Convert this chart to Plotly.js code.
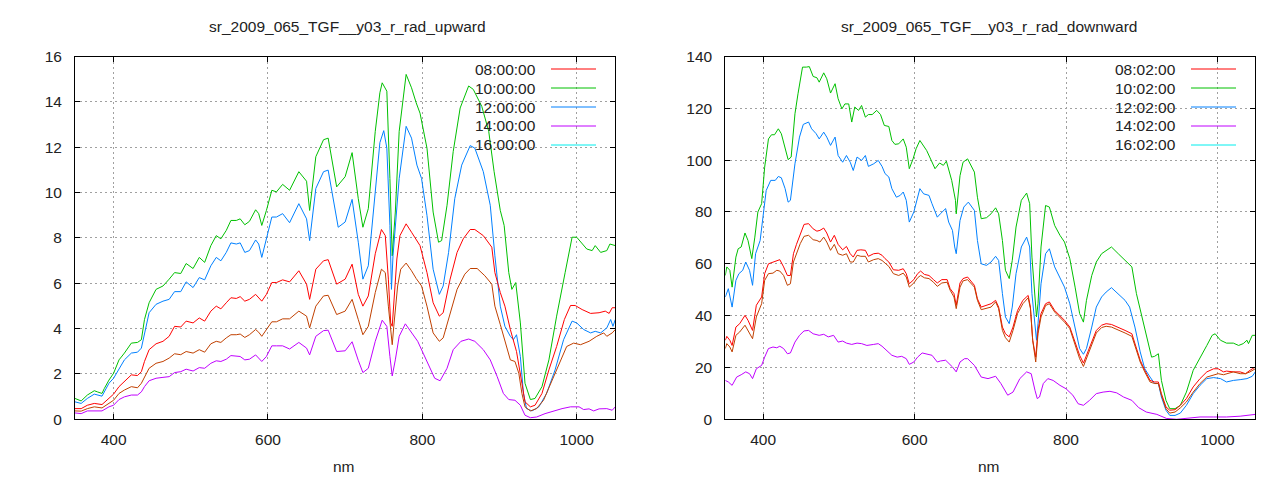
<!DOCTYPE html>
<html>
<head>
<meta charset="utf-8">
<script src="https://cdn.plot.ly/plotly-3.0.1.min.js"></script>
<style>html,body{margin:0;padding:0;background:#fff;}#chart{width:1280px;height:480px;}</style>
</head>
<body>
<div id="chart"></div>
<script>
// ---------- Upward radiance (left panel) : [nm, value] ----------
const up_0800 = [[350,0.47],[358,0.47],[366,0.62],[375,0.70],[385,0.65],[394,0.92],[400,1.11],[407,1.44],[414,1.66],[423,1.96],[431,1.93],[436,2.10],[440,2.55],[446,3.07],[455,3.33],[464,3.44],[472,3.66],[479,4.10],[487,4.07],[494,4.33],[503,4.25],[511,4.47],[518,4.33],[526,4.77],[533,4.99],[539,4.87],[546,5.14],[552,5.36],[559,5.33],[564,5.41],[570,5.21],[576,5.29],[584,5.51],[588,5.36],[592,5.21],[598,5.51],[605,6.03],[611,6.03],[619,6.15],[628,6.06],[640,6.55],[650,5.96],[654,5.29],[662,6.62],[672,6.99],[678,7.04],[689,5.96],[700,6.18],[709,6.84],[717,5.51],[723,4.99],[730,5.44],[739,7.30],[747,8.37],[752,8.10],[756,6.18],[759,4.25],[761,4.10],[763,5.14],[767,7.07],[771,8.10],[779,8.62],[786,8.25],[791,7.96],[797,7.66],[806,6.47],[814,5.14],[822,4.55],[827,4.70],[836,6.18],[845,7.36],[853,7.96],[862,8.37],[868,8.37],[879,8.10],[890,7.59],[894,6.47],[901,5.59],[907,4.99],[914,3.96],[922,2.99],[929,1.59],[933,0.77],[940,0.55],[946,0.62],[955,1.14],[964,2.18],[974,3.21],[984,4.40],[992,5.02],[998,5.02],[1007,4.84],[1018,4.67],[1029,4.70],[1037,4.77],[1042,4.67],[1046,4.92],[1050,4.92]];
const up_1000 = [[350,0.92],[358,0.81],[366,1.07],[375,1.26],[379,1.21],[385,1.14],[388,1.36],[394,1.73],[400,2.03],[407,2.62],[414,2.92],[423,3.36],[431,3.39],[436,3.51],[440,4.40],[446,5.14],[455,5.73],[464,5.88],[472,6.18],[479,6.47],[487,6.43],[494,6.87],[503,6.65],[511,7.14],[518,6.92],[526,7.66],[533,8.10],[539,7.96],[546,8.33],[552,8.77],[559,8.77],[564,8.84],[570,8.58],[576,8.73],[584,9.24],[588,9.07],[592,8.55],[598,9.21],[605,10.10],[611,10.03],[619,10.36],[628,10.10],[640,10.92],[650,10.50],[654,9.21],[662,11.58],[672,12.33],[678,12.40],[689,10.25],[700,10.70],[709,11.76],[717,9.73],[723,8.47],[730,9.29],[739,12.70],[745,14.40],[748,14.84],[754,14.47],[758,10.62],[761,7.21],[765,9.14],[770,12.70],[779,15.21],[786,14.62],[792,13.96],[797,13.50],[806,11.96],[814,9.14],[821,7.81],[825,7.88],[832,9.44],[840,11.81],[849,13.73],[860,14.70],[866,14.55],[877,13.80],[886,12.70],[893,10.92],[901,9.21],[906,8.55],[912,6.47],[916,5.73],[921,6.03],[927,4.25],[933,1.59],[940,0.87],[946,0.92],[955,1.44],[964,2.62],[974,4.55],[985,6.47],[994,8.03],[1000,8.03],[1007,7.73],[1013,7.51],[1020,7.44],[1024,7.66],[1031,7.36],[1039,7.44],[1043,7.73],[1050,7.66]];
const up_1200 = [[350,0.77],[358,0.70],[366,0.92],[375,1.11],[385,1.02],[394,1.59],[400,1.81],[407,2.25],[414,2.62],[423,2.92],[431,2.96],[436,3.14],[440,3.81],[446,4.70],[455,5.07],[464,5.21],[472,5.29],[479,5.63],[487,5.63],[494,6.06],[503,5.81],[511,6.25],[518,6.15],[526,6.77],[533,7.14],[539,6.99],[546,7.36],[552,7.78],[559,7.73],[564,7.78],[570,7.36],[576,7.44],[584,7.91],[588,7.73],[592,7.14],[598,7.96],[605,8.92],[611,8.92],[619,9.07],[628,8.67],[640,9.51],[650,8.84],[654,7.88],[662,10.18],[672,10.92],[678,10.99],[691,8.47],[700,8.70],[709,9.70],[717,7.81],[723,6.18],[730,6.77],[739,9.88],[745,12.20],[750,12.73],[754,11.96],[758,8.55],[760,5.73],[762,7.21],[765,8.55],[770,10.62],[779,12.92],[786,12.40],[793,11.21],[799,10.62],[806,8.99],[814,6.62],[822,5.51],[827,5.88],[834,7.36],[842,9.73],[851,11.21],[862,12.07],[868,11.96],[879,10.92],[888,9.44],[894,7.21],[901,4.99],[907,4.10],[914,3.66],[918,3.51],[922,3.73],[927,2.77],[931,1.14],[935,0.47],[942,0.37],[951,0.55],[961,1.14],[972,2.18],[983,3.51],[994,4.33],[1000,4.25],[1009,3.96],[1018,3.81],[1024,3.88],[1031,3.81],[1039,4.03],[1044,4.40],[1047,4.10],[1050,4.40]];
const up_1400 = [[350,0.28],[358,0.25],[366,0.37],[375,0.37],[385,0.37],[394,0.55],[400,0.62],[407,0.87],[414,0.99],[423,1.07],[431,1.07],[436,1.21],[440,1.44],[446,1.70],[455,1.81],[464,1.85],[472,1.88],[479,2.06],[487,2.10],[494,2.21],[503,2.13],[511,2.28],[518,2.25],[526,2.47],[533,2.58],[539,2.55],[546,2.65],[552,2.81],[559,2.80],[564,2.77],[570,2.62],[576,2.65],[584,2.84],[588,2.70],[592,2.55],[598,2.77],[605,3.24],[611,3.24],[619,3.24],[628,3.10],[640,3.39],[650,3.14],[654,2.84],[662,3.66],[672,3.91],[678,3.93],[689,2.99],[700,3.02],[709,3.42],[717,2.60],[723,2.06],[730,2.25],[739,3.44],[748,4.37],[754,4.10],[758,2.77],[761,1.91],[765,2.62],[770,3.66],[778,4.21],[786,3.81],[794,3.44],[801,2.92],[809,2.33],[816,1.81],[823,1.70],[832,2.25],[840,3.07],[850,3.44],[860,3.54],[868,3.44],[879,3.07],[888,2.62],[897,1.88],[905,1.14],[912,0.87],[920,0.84],[927,0.62],[933,0.18],[940,0.07],[948,0.10],[959,0.25],[970,0.37],[981,0.47],[992,0.55],[1003,0.55],[1009,0.43],[1016,0.46],[1022,0.37],[1029,0.46],[1039,0.47],[1046,0.40],[1050,0.55]];
const up_extra = [[350,0.37],[358,0.36],[366,0.47],[375,0.55],[385,0.50],[394,0.70],[400,0.84],[407,1.14],[414,1.29],[423,1.44],[431,1.39],[436,1.59],[440,1.88],[446,2.25],[455,2.47],[464,2.55],[472,2.70],[479,2.89],[487,2.85],[494,2.99],[503,2.92],[511,3.07],[518,2.96],[526,3.33],[533,3.44],[539,3.39],[546,3.59],[552,3.73],[559,3.73],[564,3.76],[570,3.61],[576,3.73],[584,3.96],[588,3.84],[592,3.66],[598,3.96],[605,4.30],[611,4.30],[619,4.43],[628,4.43],[640,4.77],[650,4.55],[654,4.03],[662,4.99],[672,5.44],[678,5.47],[689,4.62],[700,4.77],[709,5.29],[717,4.40],[723,3.73],[730,4.10],[739,5.59],[747,6.62],[752,6.47],[756,4.99],[759,3.96],[761,3.29],[763,4.10],[768,5.88],[772,6.62],[779,6.89],[786,6.55],[792,6.21],[799,5.88],[806,4.99],[814,3.81],[822,3.44],[827,3.59],[836,4.70],[845,5.73],[855,6.40],[862,6.65],[871,6.65],[881,6.33],[890,5.96],[894,4.99],[901,4.18],[907,3.44],[914,2.62],[920,2.55],[925,2.03],[929,1.14],[933,0.55],[940,0.37],[948,0.47],[957,0.84],[968,1.73],[979,2.62],[987,3.21],[996,3.36],[1005,3.29],[1016,3.44],[1026,3.66],[1035,3.81],[1039,3.66],[1046,3.81],[1050,3.96]];

// ---------- Downward radiance (right panel) : [nm, value] ----------
const down_0802 = [[350,30.5],[352,32.0],[356,30.5],[359,28.5],[364,35.6],[369,36.9],[376,40.1],[380,38.2],[386,34.3],[391,44.0],[398,47.2],[402,56.2],[407,60.0],[413,60.7],[418,61.1],[422,61.6],[427,58.8],[432,55.5],[436,55.5],[440,63.9],[444,67.5],[449,71.6],[454,75.2],[460,75.5],[466,73.5],[471,72.6],[475,72.9],[480,73.8],[484,71.9],[489,68.4],[494,71.0],[499,67.5],[505,65.4],[510,66.7],[515,63.9],[519,62.6],[524,65.2],[529,65.4],[535,65.2],[539,62.9],[546,63.9],[552,64.1],[557,63.3],[561,62.0],[566,60.7],[572,57.7],[579,57.5],[585,58.1],[589,56.2],[593,52.3],[599,53.9],[604,56.2],[608,57.2],[613,55.9],[619,55.5],[625,53.9],[630,52.6],[636,53.9],[643,53.9],[647,50.4],[652,48.5],[655,44.0],[660,52.6],[664,54.3],[670,54.9],[679,51.7],[683,46.5],[688,43.3],[695,44.0],[701,44.6],[707,45.9],[711,43.3],[716,35.6],[720,33.0],[725,31.8],[730,35.6],[736,42.0],[743,45.9],[750,47.8],[753,43.3],[756,30.5],[760,24.0],[763,34.3],[767,40.8],[773,44.6],[778,45.3],[785,42.0],[792,40.1],[798,38.2],[805,35.6],[812,29.8],[818,24.7],[823,21.7],[827,24.7],[834,30.5],[840,34.3],[847,36.3],[853,36.9],[860,36.6],[869,35.6],[878,34.3],[887,33.0],[892,27.9],[898,22.8],[904,18.9],[911,15.0],[917,14.4],[922,14.4],[926,9.9],[932,4.8],[937,3.5],[944,3.7],[951,5.4],[959,8.0],[968,12.5],[977,15.7],[986,18.3],[995,19.5],[1001,19.5],[1008,18.3],[1012,18.6],[1021,18.3],[1030,18.3],[1037,17.6],[1043,18.9],[1050,20.2]];
const down_1002 = [[350,55.5],[352,58.8],[356,57.5],[359,51.0],[364,62.6],[367,65.8],[371,66.5],[376,71.9],[380,69.0],[385,62.0],[389,70.3],[393,80.0],[398,83.2],[402,97.3],[407,108.2],[411,109.8],[415,109.8],[420,112.1],[424,110.2],[429,105.0],[433,100.2],[437,101.2],[442,117.9],[446,125.6],[452,135.9],[457,135.9],[461,136.1],[466,132.3],[471,131.8],[474,130.1],[480,133.7],[484,131.4],[489,125.9],[495,129.5],[499,123.7],[504,119.8],[508,121.7],[513,121.7],[517,114.7],[521,120.5],[526,119.2],[530,121.1],[535,116.6],[539,117.6],[544,117.6],[550,119.2],[555,117.6],[560,113.4],[566,113.0],[570,107.6],[574,106.1],[579,106.3],[585,108.2],[589,105.0],[593,96.7],[598,100.5],[602,104.4],[607,107.6],[611,105.7],[616,103.7],[622,99.9],[627,96.7],[633,98.9],[638,98.0],[642,99.6],[645,96.0],[649,92.2],[654,84.5],[655,79.3],[660,94.0],[664,99.2],[670,100.5],[679,95.4],[683,85.7],[688,77.4],[695,77.8],[701,79.3],[707,81.6],[711,79.3],[716,69.0],[720,57.5],[725,54.3],[729,61.3],[734,74.2],[741,84.5],[748,87.3],[752,83.2],[755,62.6],[759,45.9],[761,39.5],[763,44.6],[767,66.5],[773,82.5],[778,81.9],[785,74.8],[792,71.0],[798,68.4],[805,62.0],[812,51.0],[818,40.8],[823,37.5],[827,45.9],[834,55.5],[840,60.7],[847,63.9],[853,65.2],[860,66.5],[869,63.9],[878,61.3],[887,58.8],[893,48.5],[900,39.5],[906,33.0],[913,24.0],[917,24.3],[922,25.3],[926,15.0],[932,7.3],[937,4.1],[944,4.1],[951,5.4],[959,10.5],[968,18.9],[977,24.0],[986,28.5],[993,32.4],[997,33.0],[1004,30.5],[1012,29.4],[1021,29.4],[1028,28.5],[1034,29.2],[1039,30.5],[1041,29.2],[1046,32.4],[1050,32.4]];
const down_1202 = [[350,47.2],[354,50.4],[359,43.3],[364,53.6],[368,56.2],[373,57.5],[377,60.7],[382,57.5],[386,51.7],[390,63.9],[396,69.0],[400,80.0],[404,88.3],[410,92.2],[416,92.2],[420,93.7],[424,93.2],[429,89.0],[433,83.8],[436,84.5],[442,98.6],[448,108.9],[453,113.8],[460,114.7],[464,112.1],[470,110.2],[474,108.2],[480,110.8],[484,108.9],[489,105.7],[495,108.9],[499,101.8],[505,99.2],[510,101.8],[515,99.2],[519,96.0],[524,101.2],[530,99.9],[535,101.8],[539,97.6],[546,98.6],[552,99.9],[557,97.6],[561,94.8],[566,93.5],[570,89.0],[576,85.7],[581,86.4],[585,87.7],[589,84.5],[593,76.1],[599,80.0],[603,84.5],[607,89.0],[612,87.0],[619,86.4],[623,83.2],[630,78.0],[634,79.3],[641,81.3],[645,76.1],[650,72.9],[653,66.5],[655,63.9],[660,76.7],[665,81.9],[671,83.8],[679,80.6],[683,69.0],[688,60.0],[695,59.4],[701,60.7],[707,62.9],[711,61.3],[716,48.5],[720,39.5],[725,36.9],[729,43.3],[734,56.2],[741,66.5],[748,70.3],[752,66.5],[755,48.5],[759,34.3],[761,30.5],[763,36.9],[767,52.3],[773,63.9],[778,65.8],[785,58.8],[792,54.9],[798,51.0],[805,44.6],[812,35.6],[818,27.3],[823,25.1],[827,27.3],[834,35.6],[840,43.3],[847,47.2],[853,49.1],[860,50.8],[869,48.5],[878,45.9],[884,43.3],[891,35.6],[898,26.0],[904,19.5],[911,16.3],[917,13.8],[922,13.8],[926,8.6],[932,3.5],[937,1.5],[944,1.5],[951,2.4],[959,5.4],[968,9.9],[977,13.1],[986,15.7],[995,16.1],[1004,15.7],[1012,14.4],[1021,15.0],[1030,15.3],[1039,15.7],[1046,16.6],[1050,18.3]];
const down_1402 = [[350,15.0],[354,14.4],[359,13.1],[365,16.3],[371,17.2],[377,18.3],[382,17.6],[386,15.7],[391,19.5],[398,20.8],[402,24.0],[407,27.3],[413,27.9],[418,27.6],[422,28.2],[427,27.3],[432,25.3],[436,25.6],[442,29.8],[448,32.4],[454,34.1],[460,34.3],[466,33.0],[474,32.4],[480,32.8],[486,31.8],[493,32.4],[499,29.8],[505,30.2],[510,29.4],[517,28.9],[524,29.4],[530,29.2],[537,28.5],[546,28.9],[552,29.2],[557,28.2],[563,26.6],[570,24.7],[577,24.0],[583,24.3],[589,23.4],[593,21.2],[599,22.1],[604,24.0],[610,25.6],[616,25.1],[623,24.7],[630,22.1],[634,22.5],[641,22.8],[645,21.7],[650,20.2],[655,18.3],[660,22.1],[666,23.4],[670,23.4],[679,20.8],[688,16.3],[697,15.7],[707,16.6],[714,13.8],[723,9.3],[730,10.5],[739,15.7],[748,18.3],[754,17.6],[759,11.2],[762,8.0],[765,8.6],[770,13.8],[776,15.7],[783,15.0],[792,13.1],[800,11.8],[809,9.3],[816,6.0],[823,5.4],[831,7.3],[840,9.9],[849,10.5],[858,10.8],[867,10.2],[876,8.6],[887,7.3],[896,4.5],[906,2.8],[920,1.9],[933,0.3],[946,0.0],[959,0.3],[977,0.9],[995,0.9],[1012,0.9],[1030,1.2],[1043,1.5],[1050,1.9]];
const down_extra = [[350,27.3],[352,29.2],[356,27.9],[359,26.0],[364,32.4],[369,33.7],[376,36.3],[380,34.3],[386,31.1],[391,39.5],[398,44.6],[402,53.6],[407,56.2],[413,56.4],[418,57.5],[422,57.2],[427,55.5],[432,51.7],[436,52.3],[440,60.7],[444,63.9],[449,67.8],[454,70.6],[460,71.0],[466,69.3],[471,69.0],[475,68.4],[480,70.3],[484,68.4],[489,65.2],[494,67.5],[499,63.9],[505,63.3],[510,63.9],[515,60.7],[519,60.7],[524,63.3],[529,62.9],[535,62.9],[539,60.7],[546,61.6],[552,62.0],[557,61.3],[561,60.3],[566,59.0],[572,56.2],[579,55.5],[585,56.4],[589,54.9],[593,51.0],[599,52.6],[604,54.6],[608,55.5],[613,54.6],[619,54.3],[625,52.9],[630,51.3],[636,52.6],[643,52.9],[647,49.8],[652,47.2],[655,42.7],[660,51.0],[664,53.4],[670,53.9],[679,51.0],[683,45.9],[688,42.3],[695,42.7],[701,43.3],[707,45.3],[711,42.7],[716,34.3],[720,31.5],[725,29.8],[730,34.3],[736,40.8],[743,44.6],[750,46.9],[753,42.7],[756,30.5],[760,22.1],[763,33.0],[767,39.5],[773,43.9],[778,44.6],[785,41.4],[792,39.5],[798,37.5],[805,35.0],[812,28.9],[818,23.4],[823,20.4],[827,23.4],[834,29.4],[840,33.3],[847,35.4],[853,35.9],[860,35.6],[869,34.6],[878,33.3],[887,32.0],[892,27.3],[898,22.1],[904,18.3],[911,14.4],[917,13.8],[922,13.8],[926,9.3],[932,4.1],[937,2.4],[944,2.8],[951,4.4],[959,6.7],[968,10.5],[977,13.8],[986,16.3],[995,17.0],[1001,17.6],[1008,17.2],[1012,17.6],[1021,18.3],[1030,17.6],[1037,17.6],[1043,18.3],[1050,19.5]];

// ---------- labels ----------
const titleUp = "sr_2009_065_TGF__y03_r_rad_upward";
const titleDown = "sr_2009_065_TGF__y03_r_rad_downward";
const xLabel = "nm";
const legendUp = ["08:00:00","10:00:00","12:00:00","14:00:00","16:00:00"];
const legendDown = ["08:02:00","10:02:00","12:02:00","14:02:00","16:02:00"];
const legendColors = ["#ff0000","#00c000","#0080ff","#c000ff","#00eeee"];
const xTicks = [400, 600, 800, 1000];

const C = {red:"#ff0000", green:"#00c000", blue:"#0080ff", magenta:"#c000ff", brown:"#c04000"};
const FONT = "Liberation Sans, Arial, sans-serif";

function tr(data, color, xa, ya){
  return {x:data.map(d=>d[0]), y:data.map(d=>d[1]), type:"scatter", mode:"lines",
          line:{color:color, width:1}, xaxis:xa, yaxis:ya, hoverinfo:"skip", showlegend:false};
}

const traces = [
  tr(up_1000, C.green, "x", "y"),
  tr(up_1200, C.blue, "x", "y"),
  tr(up_0800, C.red, "x", "y"),
  tr(up_extra, C.brown, "x", "y"),
  tr(up_1400, C.magenta, "x", "y"),
  tr(down_1002, C.green, "x2", "y2"),
  tr(down_1202, C.blue, "x2", "y2"),
  tr(down_0802, C.red, "x2", "y2"),
  tr(down_extra, C.brown, "x2", "y2"),
  tr(down_1402, C.magenta, "x2", "y2")
];

const W = 1280, H = 480;
const px = v => v / W, py = v => 1 - v / H;

function axisX(domain, anchor){
  return {domain:domain, anchor:anchor, range:[350,1050], tickvals:xTicks, ticks:"inside", ticklen:5,
    tickcolor:"#000", showline:true, linecolor:"#000", linewidth:1, mirror:"allticks",
    showgrid:true, gridcolor:"#a0a0a0", gridwidth:1, griddash:"2px,3px", zeroline:false,
    tickfont:{family:FONT, size:15.5, color:"#222"}, ticklabelstandoff:6};
}
function axisY(domain, anchor, max, dt){
  return {domain:domain, anchor:anchor, range:[0,max], dtick:dt, tick0:0, ticks:"inside", ticklen:5,
    tickcolor:"#000", showline:true, linecolor:"#000", linewidth:1, mirror:"allticks",
    showgrid:true, gridcolor:"#a0a0a0", gridwidth:1, griddash:"2px,3px", zeroline:false,
    tickfont:{family:FONT, size:15.5, color:"#222"}, ticklabelstandoff:9};
}

const yDom = [(H-419.3)/H, (H-56.5)/H];
const layout = {
  width:W, height:H, margin:{l:0,r:0,t:0,b:0}, paper_bgcolor:"#fff", plot_bgcolor:"#fff",
  showlegend:false,
  xaxis: axisX([75/W, 615.3/W], "y"),
  yaxis: axisY(yDom, "x", 16, 2),
  xaxis2: axisX([725.3/W, 1255.3/W], "y2"),
  yaxis2: axisY(yDom, "x2", 140, 20),
  shapes: [], annotations: []
};

// legend masks (hide grid behind key, lines still on top)
layout.shapes.push({type:"rect", xref:"paper", yref:"paper", x0:px(473), x1:px(607), y0:py(155), y1:py(57),
  fillcolor:"#fff", line:{width:0}, layer:"between"});
layout.shapes.push({type:"rect", xref:"paper", yref:"paper", x0:px(1103), x1:px(1247), y0:py(155), y1:py(57),
  fillcolor:"#fff", line:{width:0}, layer:"between"});

const rows = [69, 88, 107, 126, 145];
function addKey(labels, textRight, s0, s1){
  labels.forEach((lab, i) => {
    layout.annotations.push({text:lab, xref:"paper", yref:"paper", x:px(textRight), y:py(rows[i]),
      xanchor:"right", yanchor:"middle", showarrow:false, font:{family:FONT, size:15.5, color:"#222"}});
    layout.shapes.push({type:"line", xref:"paper", yref:"paper", x0:px(s0), x1:px(s1), y0:py(rows[i]), y1:py(rows[i]),
      line:{color:legendColors[i], width:1}, layer:"above"});
  });
}
addKey(legendUp, 538, 551, 596);
addKey(legendDown, 1178, 1191, 1236);

function addTitle(text, cx, cy){
  layout.annotations.push({text:text, xref:"paper", yref:"paper", x:px(cx), y:py(cy),
    xanchor:"center", yanchor:"middle", showarrow:false, font:{family:FONT, size:15.5, color:"#222"}});
}
addTitle(titleUp, 347, 26);
addTitle(titleDown, 989, 26);
addTitle(xLabel, 344, 466);
addTitle(xLabel, 989, 466);

Plotly.newPlot("chart", traces, layout, {staticPlot:true, displayModeBar:false});
</script>
</body>
</html>
